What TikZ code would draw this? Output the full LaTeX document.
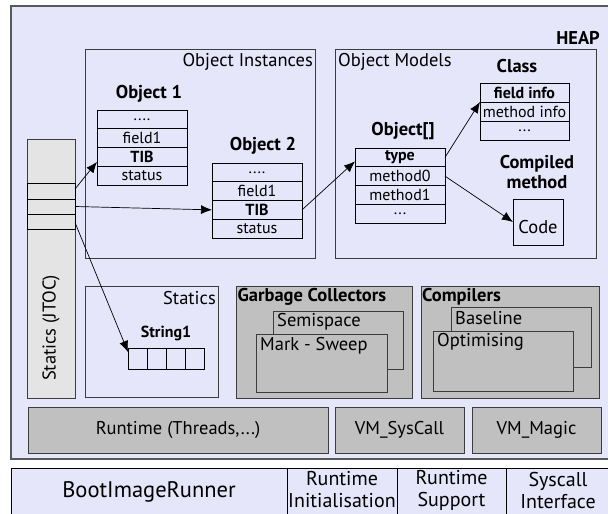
\documentclass[tikz,border=0pt]{standalone}
\usepackage{fontspec}
\setmainfont{PT Sans}
\usetikzlibrary{arrows.meta,calc}

\definecolor{heapfill}{HTML}{E6E6FA}
\definecolor{jtocfill}{HTML}{E4E4E4}
\definecolor{unitfill}{HTML}{C0C0C0}
\definecolor{edge}{HTML}{3C3C3C}

\tikzset{
  lbl/.style={inner sep=0pt, font=\fontsize{18.5}{20}\selectfont},
  blbl/.style={inner sep=0pt, font=\fontsize{18.5}{20}\selectfont\bfseries},
  cellfont/.style={font=\fontsize{16}{17}\selectfont},
  cellbold/.style={font=\fontsize{16}{17}\selectfont\bfseries},
  cell/.style={draw=black, line width=0.9pt, fill=heapfill, inner sep=0pt, outer sep=0pt,
    anchor=north west, minimum width=90pt, minimum height=18.75pt, cellfont},
  region/.style={draw=edge, line width=0.9pt, inner sep=0pt, outer sep=0pt, anchor=north west},
  unit/.style={region, fill=unitfill},
  unitlbl/.style={inner sep=0pt, font=\fontsize{18.5}{20}\selectfont},
  jslot/.style={draw=black, line width=0.9pt, fill=jtocfill, inner sep=0pt, outer sep=0pt,
    anchor=north west, minimum width=48pt},
  bottomcell/.style={draw=black, line width=0.9pt, fill=heapfill, inner sep=0pt, outer sep=0pt,
    anchor=north west, minimum height=52pt},
  bottomlbl/.style={inner sep=0pt, align=center, font=\fontsize{20}{22}\selectfont},
  ptr/.style={draw=black, line width=0.7pt, -{Latex[length=11pt,width=9pt]}}
}

\begin{document}
\begin{tikzpicture}[x=1pt,y=-1pt]
\useasboundingbox (0,0) rectangle (608,514);
\clip (0,0) rectangle (608,514);

% heap area
\node[draw=gray!70!black, line width=1.4pt, fill=heapfill, inner sep=0pt, outer sep=0pt,
      anchor=north west, minimum width=603pt, minimum height=453pt] (heap) at (11,6) {};
\node[blbl, anchor=east] (heaplbl) at (600,38) {HEAP};

% object instances
\node[region, minimum width=230pt, minimum height=209pt] (inst) at (85,49) {};
\node[lbl, anchor=east] (instlbl) at (313,62) {Object Instances};

\node[blbl] (obj1lbl) at (149,94) {Object 1};
\node[cell] (o1a) at (97,110) {....};
\node[cell] (o1b) at (97,128.75) {field1};
\node[cell, cellbold] (o1c) at (97,147.5) {TIB};
\node[cell] (o1d) at (97,166.25) {status};

\node[blbl] (obj2lbl) at (263,146) {Object 2};
\node[cell] (o2a) at (212,163) {....};
\node[cell] (o2b) at (212,181.75) {field1};
\node[cell, cellbold] (o2c) at (212,200.5) {TIB};
\node[cell] (o2d) at (212,219.25) {status};

% object models
\node[region, minimum width=261pt, minimum height=209pt] (models) at (335,49) {};
\node[lbl, anchor=west] (modelslbl) at (338,62) {Object Models};

\node[blbl] (arrlbl) at (403,131) {Object[]};
\node[cell, cellbold] (t0) at (355,148) {type};
\node[cell] (t1) at (355,166.75) {method0};
\node[cell] (t2) at (355,185.5) {method1};
\node[cell] (t3) at (355,204.25) {...};

\node[blbl] (classlbl) at (517,66) {Class};
\node[cell, cellbold, minimum width=89pt, minimum height=19pt] (c0) at (480,83) {field info};
\node[cell, minimum width=89pt, minimum height=19pt] (c1) at (480,102) {method info};
\node[cell, minimum width=89pt, minimum height=19pt] (c2) at (480,121) {...};

\node[blbl, align=center] (cmlbl) at (537,172) {Compiled\\method};
\node[cell, minimum width=50pt, minimum height=46pt] (code) at (513,199) {};
\node[inner sep=0pt, font=\fontsize{18.5}{20}\selectfont] (codelbl) at (538,227) {Code};

% statics
\node[region, minimum width=133pt, minimum height=111pt] (statics) at (85,286) {};
\node[lbl, anchor=east] (staticslbl) at (216,298) {Statics};
\node[inner sep=0pt, cellbold] (strlbl) at (166,333) {String1};
\node[cell, minimum width=19pt, minimum height=21pt] (s1) at (128,348) {};
\node[cell, minimum width=19pt, minimum height=21pt] (s2) at (147,348) {};
\node[cell, minimum width=19pt, minimum height=21pt] (s3) at (166,348) {};
\node[cell, minimum width=19pt, minimum height=21pt] (s4) at (185,348) {};

% garbage collectors
\node[unit, minimum width=176pt, minimum height=112pt] (gc) at (236,286) {};
\node[blbl, anchor=west] (gclbl) at (237.5,297) {Garbage Collectors};
\node[unit, minimum width=130pt, minimum height=58pt] (semi) at (273,311) {};
\node[unitlbl, anchor=west] (semilbl) at (277,322) {Semispace};
\node[unit, minimum width=131pt, minimum height=58pt] (mark) at (256,334) {};
\node[unitlbl, anchor=west] (marklbl) at (260,346) {Mark - Sweep};

% compilers
\node[unit, minimum width=178pt, minimum height=112pt] (comp) at (421,286) {};
\node[blbl, anchor=west] (complbl) at (422,297) {Compilers};
\node[unit, minimum width=140pt, minimum height=60pt] (base) at (451,307) {};
\node[unitlbl, anchor=west] (baselbl) at (455,318) {Baseline};
\node[unit, minimum width=140pt, minimum height=60pt] (opt) at (433,331) {};
\node[unitlbl, anchor=west] (optlbl) at (437,342) {Optimising};

% runtime services
\node[unit, minimum width=300pt, minimum height=46pt] (rt) at (28,407) {};
\node[unitlbl] (rtlbl) at (178,430) {Runtime (Threads,...)};
\node[unit, minimum width=129pt, minimum height=46pt] (vmsys) at (335,407) {};
\node[unitlbl] (vmsyslbl) at (399.5,430) {VM\_SysCall};
\node[unit, minimum width=129pt, minimum height=46pt] (vmmag) at (472,407) {};
\node[unitlbl] (vmmaglbl) at (536.5,430) {VM\_Magic};

% JTOC column
\node[jslot, draw=edge, minimum height=259pt] (jtoc) at (27,139) {};
\node[jslot, minimum height=16pt] (j1) at (27,183) {};
\node[jslot, minimum height=15pt] (j2) at (27,199) {};
\node[jslot, minimum height=15pt] (j3) at (27,214) {};
\node[lbl, rotate=90] (jtoclbl) at (51,328) {Statics (JTOC)};

% references
\draw[ptr] ([yshift=2pt]j1.east) -- ([yshift=-5pt]o1c.west);
\draw[ptr] (j2.east) -- (o2c.west);
\draw[ptr] ([yshift=-1pt]j3.east) -- ([yshift=-4pt]s1.north west);
\draw[ptr] (o2c.east) -- ([yshift=-4pt]t0.west);
\draw[ptr] (t0.east) -- (c1.north west);
\draw[ptr] (t1.east) -- (code.west);

% boot image layer (its lower edge runs past the page)
\node[bottomcell, minimum width=276pt] (boot) at (11,468) {};
\node[bottomcell, minimum width=110pt] (rinit) at (287,468) {};
\node[bottomcell, minimum width=109pt] (rsup) at (397,468) {};
\node[bottomcell, minimum width=108pt] (sysif) at (506,468) {};
\node[bottomlbl, font=\fontsize{22.5}{25}\selectfont] (bootlbl) at (149,492) {BootImageRunner};
\node[bottomlbl] (rinitlbl) at (342,490) {Runtime\\Initialisation};
\node[bottomlbl] (rsuplbl) at (451.5,490) {Runtime\\Support};
\node[bottomlbl] (sysiflbl) at (558,490) {Syscall\\Interface};
\end{tikzpicture}
\end{document}
